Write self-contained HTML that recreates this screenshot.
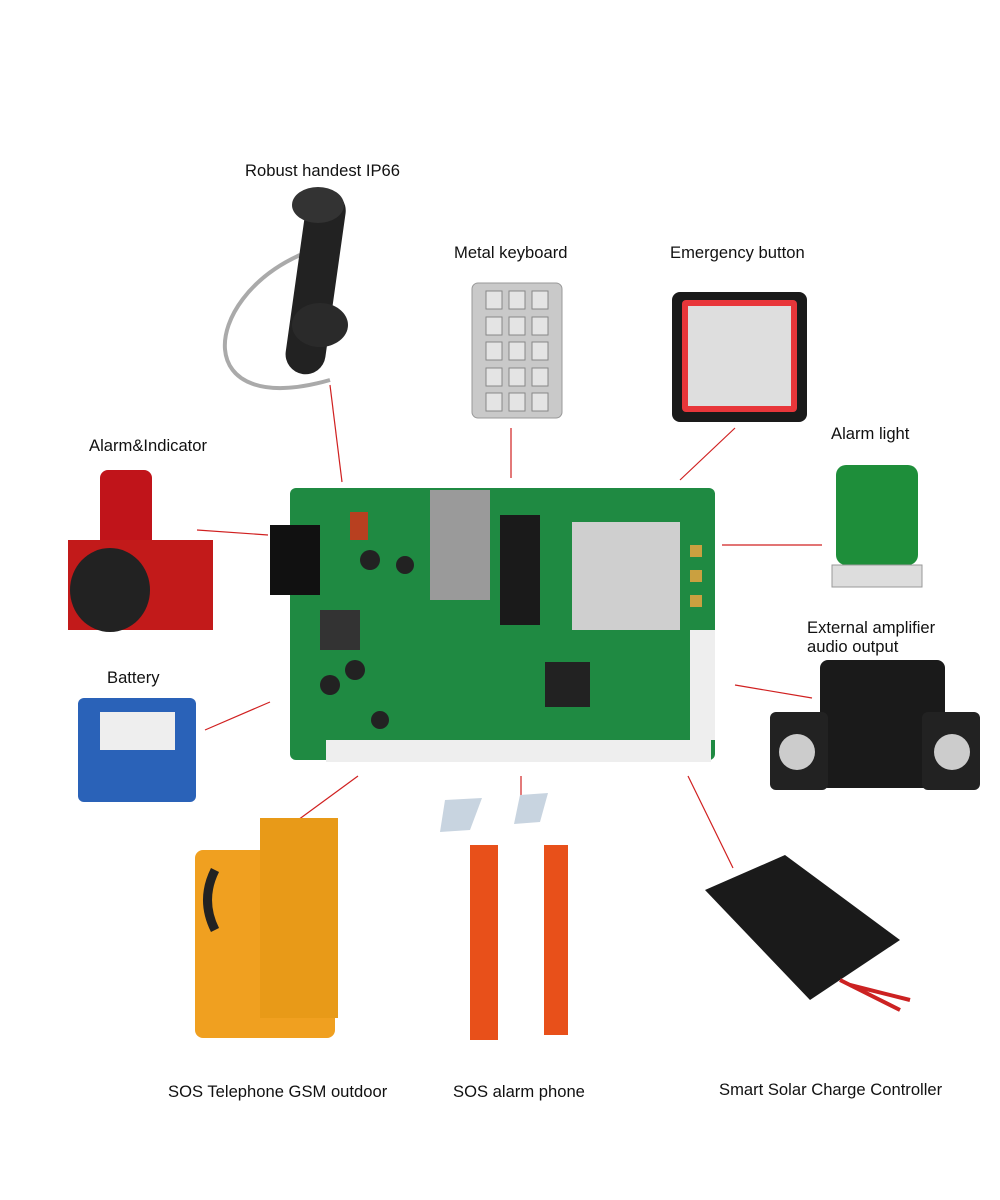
<!DOCTYPE html>
<html><head><meta charset="utf-8"><style>
html,body{margin:0;padding:0;background:#fff;}
#c{position:relative;width:1000px;height:1200px;overflow:hidden;font-family:"Liberation Sans",sans-serif;color:#111;}
.t{position:absolute;font-size:16.6px;white-space:nowrap;}
.a{position:absolute;}
</style></head><body><div id="c">
<svg class="a" style="left:0;top:0" width="1000" height="1200">
<g stroke="#d02020" stroke-width="1.2">
<line x1="330" y1="385" x2="342" y2="482"/>
<line x1="511" y1="428" x2="511" y2="478"/>
<line x1="735" y1="428" x2="680" y2="480"/>
<line x1="197" y1="530" x2="268" y2="535"/>
<line x1="722" y1="545" x2="822" y2="545"/>
<line x1="205" y1="730" x2="270" y2="702"/>
<line x1="735" y1="685" x2="812" y2="698"/>
<line x1="298" y1="820" x2="358" y2="776"/>
<line x1="521" y1="776" x2="521" y2="815"/>
<line x1="688" y1="776" x2="733" y2="868"/>
</g>
<!-- handset -->
<path d="M300 255 C 200 300, 190 420, 330 380" fill="none" stroke="#aaa" stroke-width="4"/>
<rect x="296" y="190" width="40" height="185" rx="20" fill="#222" transform="rotate(8 316 280)"/>
<ellipse cx="318" cy="205" rx="26" ry="18" fill="#333"/>
<ellipse cx="320" cy="325" rx="28" ry="22" fill="#2a2a2a"/>
<!-- keypad -->
<rect x="472" y="283" width="90" height="135" rx="6" fill="#c9c9c9" stroke="#999"/>
<g fill="#e4e4e4" stroke="#888">
<rect x="486" y="291" width="16" height="18"/><rect x="509" y="291" width="16" height="18"/><rect x="532" y="291" width="16" height="18"/>
<rect x="486" y="317" width="16" height="18"/><rect x="509" y="317" width="16" height="18"/><rect x="532" y="317" width="16" height="18"/>
<rect x="486" y="342" width="16" height="18"/><rect x="509" y="342" width="16" height="18"/><rect x="532" y="342" width="16" height="18"/>
<rect x="486" y="368" width="16" height="18"/><rect x="509" y="368" width="16" height="18"/><rect x="532" y="368" width="16" height="18"/>
<rect x="486" y="393" width="16" height="18"/><rect x="509" y="393" width="16" height="18"/><rect x="532" y="393" width="16" height="18"/>
</g>
<!-- emergency -->
<rect x="672" y="292" width="135" height="130" rx="8" fill="#1a1a1a"/>
<rect x="682" y="300" width="115" height="112" rx="4" fill="#e8363a"/>
<rect x="688" y="306" width="103" height="100" fill="#dedede"/>
<!-- alarm light -->
<rect x="836" y="465" width="82" height="100" rx="10" fill="#1e8e3a"/>
<rect x="832" y="565" width="90" height="22" fill="#ddd" stroke="#999"/>
<!-- alarm&indicator -->
<rect x="100" y="470" width="52" height="80" rx="8" fill="#c0141a"/>
<rect x="68" y="540" width="145" height="90" fill="#c21a1a"/>
<ellipse cx="110" cy="590" rx="40" ry="42" fill="#222"/>
<!-- battery -->
<rect x="78" y="698" width="118" height="104" rx="6" fill="#2a62b8"/>
<rect x="100" y="712" width="75" height="38" fill="#eee"/>
<!-- PCB -->
<rect x="290" y="488" width="425" height="272" rx="6" fill="#1f8a42"/>
<rect x="572" y="522" width="108" height="108" fill="#cfcfcf"/>
<rect x="500" y="515" width="40" height="110" fill="#1a1a1a"/>
<rect x="430" y="490" width="60" height="110" fill="#9a9a9a"/>
<rect x="270" y="525" width="50" height="70" fill="#111"/>
<rect x="326" y="740" width="385" height="22" fill="#eee"/>
<rect x="690" y="630" width="25" height="110" fill="#eee"/>
<rect x="545" y="662" width="45" height="45" fill="#222"/>
<rect x="320" y="610" width="40" height="40" fill="#333"/>
<g fill="#222"><circle cx="370" cy="560" r="10"/><circle cx="405" cy="565" r="9"/><circle cx="330" cy="685" r="10"/><circle cx="355" cy="670" r="10"/><circle cx="380" cy="720" r="9"/></g>
<rect x="350" y="512" width="18" height="28" fill="#b84020"/>
<g fill="#caa040"><rect x="690" y="545" width="12" height="12"/><rect x="690" y="570" width="12" height="12"/><rect x="690" y="595" width="12" height="12"/></g>
<!-- speakers -->
<rect x="820" y="660" width="125" height="128" rx="8" fill="#1a1a1a"/>
<rect x="770" y="712" width="58" height="78" rx="6" fill="#222"/>
<rect x="922" y="712" width="58" height="78" rx="6" fill="#222"/>
<circle cx="797" cy="752" r="18" fill="#ccc"/><circle cx="952" cy="752" r="18" fill="#ccc"/>
<!-- SOS GSM -->
<rect x="195" y="850" width="140" height="188" rx="8" fill="#f0a020"/>
<rect x="260" y="818" width="78" height="200" fill="#e89a18"/>
<path d="M215 870 q-15 30 0 60" stroke="#222" stroke-width="9" fill="none"/>
<!-- SOS alarm phone -->
<rect x="470" y="845" width="28" height="195" fill="#e8501a"/>
<rect x="544" y="845" width="24" height="190" fill="#e8501a"/>
<polygon points="445,800 482,798 470,830 440,832" fill="#c8d4e0"/>
<polygon points="520,795 548,793 540,822 514,824" fill="#c8d4e0"/>
<!-- solar -->
<polygon points="705,890 785,855 900,940 810,1000" fill="#1a1a1a"/>
<g stroke="#c22" stroke-width="4"><line x1="840" y1="980" x2="900" y2="1010"/><line x1="850" y1="985" x2="910" y2="1000"/></g>
</svg>
<div class="t" style="left:245px;top:161px">Robust handest IP66</div>
<div class="t" style="left:454px;top:243px">Metal keyboard</div>
<div class="t" style="left:670px;top:243px">Emergency button</div>
<div class="t" style="left:831px;top:424px">Alarm light</div>
<div class="t" style="left:89px;top:436px">Alarm&amp;Indicator</div>
<div class="t" style="left:807px;top:618px;line-height:19px">External amplifier<br>audio output</div>
<div class="t" style="left:107px;top:668px">Battery</div>
<div class="t" style="left:168px;top:1082px">SOS Telephone GSM outdoor</div>
<div class="t" style="left:453px;top:1082px">SOS alarm phone</div>
<div class="t" style="left:719px;top:1080px">Smart Solar Charge Controller</div>
</div></body></html>
